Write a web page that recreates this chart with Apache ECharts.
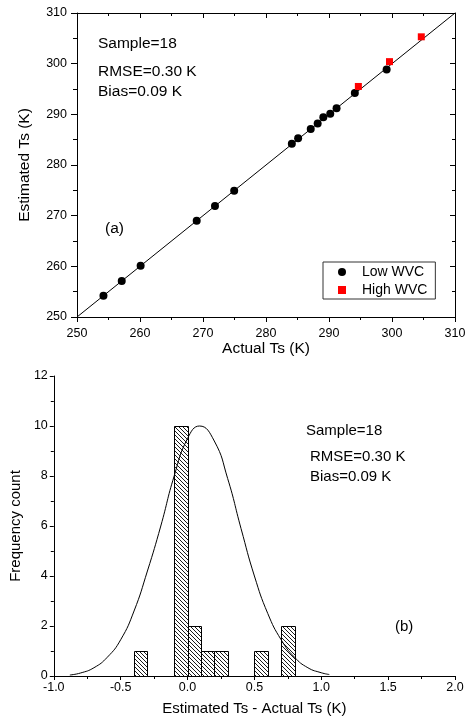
<!DOCTYPE html>
<html>
<head>
<meta charset="utf-8">
<script src="https://cdn.jsdelivr.net/npm/echarts@6/dist/echarts.min.js"></script>
<style>
html,body{margin:0;padding:0;background:#fff;}
#c{width:471px;height:721px;}
</style>
</head>
<body>
<div id="c"></div>
<script>
// ---- Panel (a): scatter data ----
const lowActual    = [254.2, 257.1, 260.1, 269.0, 271.9, 274.95, 284.1, 285.1, 287.1, 288.2, 289.1, 290.2, 291.2, 294.1, 299.15];
const lowEstimated = [254.2, 257.1, 260.1, 269.0, 271.9, 274.9, 284.2, 285.3, 287.1, 288.2, 289.4, 290.1, 291.2, 294.2, 298.85];
const highActual    = [294.66, 299.6, 304.65];
const highEstimated = [295.5, 300.4, 305.3];
const oneToOne = [250, 310];
const tsTicks = [250, 260, 270, 280, 290, 300, 310];

// ---- Panel (b): histogram data ----
const binStart = [-0.4, -0.1, 0.0, 0.1, 0.2, 0.5, 0.7];
const binEnd   = [-0.3, 0.0, 0.1, 0.2, 0.3, 0.6, 0.8];
const binCount = [1, 10, 2, 1, 1, 1, 2];
// normal curve
const curveX = [-0.88, -0.8, -0.7, -0.6, -0.5, -0.4, -0.3, -0.2, -0.1, 0.0, 0.09, 0.2, 0.3, 0.4, 0.5, 0.6, 0.7, 0.8, 0.9, 1.0, 1.06];
const curveY = [0.04, 0.12, 0.33, 0.75, 1.45, 2.6, 4.2, 6.0, 8.0, 9.5, 10.0, 9.4, 7.9, 5.9, 4.0, 2.5, 1.45, 0.75, 0.33, 0.13, 0.06];
const diffTicks = [-1.0, -0.5, 0.0, 0.5, 1.0, 1.5, 2.0];
const countTicks = [0, 2, 4, 6, 8, 10, 12];

const FONT = "'Liberation Sans', Arial, sans-serif";

// hatch pattern
const pc = document.createElement('canvas');
pc.width = 4; pc.height = 4;
const pctx = pc.getContext('2d');
pctx.fillStyle = '#fff';
pctx.fillRect(0, 0, 4, 4);
pctx.fillStyle = '#1a1a1a';
for (let i = 0; i < 4; i++) pctx.fillRect(i, i, 1, 1);
const hatch = { image: pc, repeat: 'repeat' };

const chart = echarts.init(document.getElementById('c'), null, { renderer: 'canvas' });

const axisLine = { show: true, onZero: false, lineStyle: { color: '#000', width: 1 } };
const lbl = { color: '#000', fontFamily: FONT, fontSize: 12.5 };

const option = {
  animation: false,
  backgroundColor: '#fff',
  textStyle: { fontFamily: FONT },
  grid: [
    { left: 77, right: 16, top: 13, bottom: 404, containLabel: false },
    { left: 52, right: 16, top: 376, bottom: 45, containLabel: false }
  ],
  xAxis: [
    { type: 'value', gridIndex: 0, position: 'bottom', min: tsTicks[0], max: tsTicks[tsTicks.length - 1], interval: 10,
      name: 'Actual Ts (K)', nameLocation: 'middle', nameGap: 23,
      nameTextStyle: { color: '#000', fontFamily: FONT, fontSize: 15.5 },
      axisLine: axisLine, axisTick: { show: true, inside: false, length: 5, lineStyle: { color: '#000' } },
      minorTick: { show: true, splitNumber: 2, length: 3, lineStyle: { color: '#000' } },
      axisLabel: Object.assign({ margin: 10 }, lbl), splitLine: { show: false } },
    { type: 'value', gridIndex: 0, position: 'top', min: tsTicks[0], max: tsTicks[tsTicks.length - 1], interval: 10,
      axisLine: axisLine, axisTick: { show: true, inside: true, length: 5, lineStyle: { color: '#000' } },
      minorTick: { show: true, splitNumber: 2, length: 3, lineStyle: { color: '#000' } },
      axisLabel: { show: false }, splitLine: { show: false } },
    { type: 'value', gridIndex: 1, position: 'bottom', min: diffTicks[0], max: diffTicks[diffTicks.length - 1], interval: 0.5,
      name: 'Estimated Ts - Actual Ts (K)', nameLocation: 'middle', nameGap: 25,
      nameTextStyle: { color: '#000', fontFamily: FONT, fontSize: 15 },
      axisLine: axisLine, axisTick: { show: true, inside: false, length: 4, lineStyle: { color: '#000' } },
      minorTick: { show: true, splitNumber: 2, length: 3, lineStyle: { color: '#000' } },
      axisLabel: Object.assign({ margin: 5, formatter: v => v.toFixed(1) }, lbl), splitLine: { show: false } }
  ],
  yAxis: [
    { type: 'value', gridIndex: 0, position: 'left', min: tsTicks[0], max: tsTicks[tsTicks.length - 1], interval: 10,
      name: 'Estimated Ts (K)', nameLocation: 'middle', nameGap: 44,
      nameTextStyle: { color: '#000', fontFamily: FONT, fontSize: 15.5 },
      axisLine: axisLine, axisTick: { show: true, inside: false, length: 6, lineStyle: { color: '#000' } },
      minorTick: { show: true, splitNumber: 2, length: 4, lineStyle: { color: '#000' } },
      axisLabel: Object.assign({ margin: 10 }, lbl), splitLine: { show: false } },
    { type: 'value', gridIndex: 0, position: 'right', min: tsTicks[0], max: tsTicks[tsTicks.length - 1], interval: 10,
      axisLine: axisLine, axisTick: { show: true, inside: true, length: 5, lineStyle: { color: '#000' } },
      minorTick: { show: true, splitNumber: 2, length: 3, lineStyle: { color: '#000' } },
      axisLabel: { show: false }, splitLine: { show: false } },
    { type: 'value', gridIndex: 1, position: 'left', min: countTicks[0], max: countTicks[countTicks.length - 1], interval: 2,
      name: 'Frequency count', nameLocation: 'middle', nameGap: 18,
      nameTextStyle: { color: '#000', fontFamily: FONT, fontSize: 15 },
      axisLine: axisLine, axisTick: { show: true, inside: false, length: 4, lineStyle: { color: '#000' } },
      minorTick: { show: true, splitNumber: 2, length: 3, lineStyle: { color: '#000' } },
      axisLabel: Object.assign({ margin: 6 }, lbl), splitLine: { show: false } }
  ],
  legend: {
    orient: 'vertical', left: 323, top: 262,
    padding: [3, 8, 2, 15], itemGap: 4, itemWidth: 8, itemHeight: 8,
    borderColor: '#333', borderWidth: 1, backgroundColor: '#fff',
    textStyle: { color: '#000', fontFamily: FONT, fontSize: 14, lineHeight: 14, padding: [0, 0, 0, 11] },
    data: ['Low WVC', 'High WVC']
  },
  series: [
    { type: 'line', name: '1:1', xAxisIndex: 0, yAxisIndex: 0,
      data: [[oneToOne[0], oneToOne[0]], [oneToOne[1], oneToOne[1]]],
      showSymbol: false, lineStyle: { color: '#000', width: 1 }, silent: true, z: 2 },
    { type: 'scatter', name: 'Low WVC', xAxisIndex: 0, yAxisIndex: 0,
      data: lowActual.map((v, i) => [v, lowEstimated[i]]),
      symbol: 'circle', symbolSize: 8, itemStyle: { color: '#000', opacity: 1 }, z: 3 },
    { type: 'scatter', name: 'High WVC', xAxisIndex: 0, yAxisIndex: 0,
      data: highActual.map((v, i) => [v, highEstimated[i]]),
      symbol: 'rect', symbolSize: 7, itemStyle: { color: '#ff0000', opacity: 1 }, z: 3 },
    { type: 'custom', name: 'hist', xAxisIndex: 2, yAxisIndex: 2,
      data: binStart.map((s, i) => [s, binEnd[i], binCount[i]]),
      encode: { x: [0, 1], y: 2 },
      renderItem: function (params, api) {
        const p0 = api.coord([api.value(0), api.value(2)]);
        const p1 = api.coord([api.value(1), 0]);
        const x0 = Math.round(p0[0]) + 0.5, y0 = Math.round(p0[1]) + 0.5;
        const x1 = Math.round(p1[0]) + 0.5, y1 = Math.round(p1[1]) + 0.5;
        return { type: 'rect', shape: { x: x0, y: y0, width: x1 - x0, height: y1 - y0 },
          style: { fill: hatch, stroke: '#000', lineWidth: 1 } };
      }, z: 2 },
    { type: 'line', name: 'fit', xAxisIndex: 2, yAxisIndex: 2,
      data: curveX.map((v, i) => [v, curveY[i]]),
      smooth: true, showSymbol: false, lineStyle: { color: '#000', width: 1 }, z: 4 }
  ],
  graphic: [
    { type: 'text', left: 98, top: 36, style: { text: 'Sample=18', fill: '#000', font: '15.5px ' + FONT } },
    { type: 'text', left: 98, top: 64, style: { text: 'RMSE=0.30 K', fill: '#000', font: '15.5px ' + FONT } },
    { type: 'text', left: 98, top: 84, style: { text: 'Bias=0.09 K', fill: '#000', font: '15.5px ' + FONT } },
    { type: 'text', left: 105, top: 221, style: { text: '(a)', fill: '#000', font: '15.5px ' + FONT } },
    { type: 'text', left: 306, top: 423, style: { text: 'Sample=18', fill: '#000', font: '15px ' + FONT } },
    { type: 'text', left: 310, top: 449, style: { text: 'RMSE=0.30 K', fill: '#000', font: '15px ' + FONT } },
    { type: 'text', left: 310, top: 469, style: { text: 'Bias=0.09 K', fill: '#000', font: '15px ' + FONT } },
    { type: 'text', left: 395, top: 619, style: { text: '(b)', fill: '#000', font: '15px ' + FONT } }
  ]
};
chart.setOption(option);
</script>
</body>
</html>
